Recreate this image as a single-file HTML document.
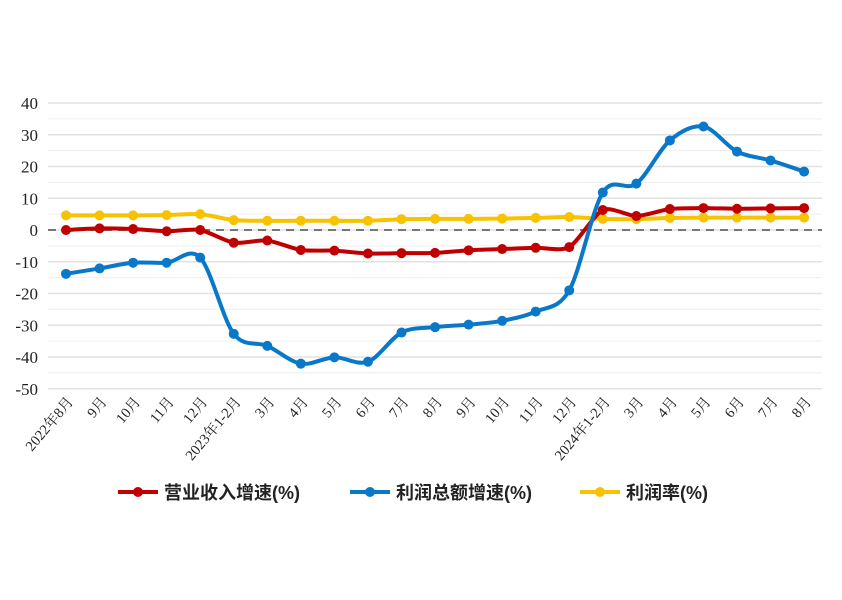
<!DOCTYPE html>
<html><head><meta charset="utf-8"><style>
body{margin:0;background:#fff;}
svg{display:block;font-family:"Liberation Serif","Noto Serif CJK SC",serif;}
</style></head><body>
<svg id="s" width="842" height="600" xmlns="http://www.w3.org/2000/svg"></svg>
<script>
const s=document.getElementById('s');
const Y=v=>230-v*3.175, X=i=>66+i*33.55;
let h='';
for(let v=-50;v<=40;v+=5){const y=Y(v);h+=`<line x1="48" x2="822" y1="${y}" y2="${y}" stroke="${v%10==0?'#e2e2e2':'#efefef'}" stroke-width="${v%10==0?1.6:1}"/>`;}
h+=`<line x1="48" x2="822" y1="230" y2="230" stroke="#777" stroke-width="2" stroke-dasharray="8,6"/>`;
for(let v=-50;v<=40;v+=10){h+=`<text x="38" y="${Y(v)+6}" font-size="17" text-anchor="end" fill="#222">${v}</text>`;}
const labs=['2022年8月','9月','10月','11月','12月','2023年1-2月','3月','4月','5月','6月','7月','8月','9月','10月','11月','12月','2024年1-2月','3月','4月','5月','6月','7月','8月'];
labs.forEach((l,i)=>{const x=X(i)+8,y=402;h+=`<text x="${x}" y="${y}" font-size="14.5" text-anchor="end" transform="rotate(-50 ${x} ${y})" fill="#222">${l}</text>`;});
const red=[0,0.5,0.3,-0.4,0,-4,-3.3,-6.3,-6.5,-7.4,-7.3,-7.2,-6.4,-6,-5.6,-5.4,6.3,4.4,6.6,6.9,6.7,6.8,6.9];
const blue=[-13.8,-12.1,-10.3,-10.3,-8.7,-32.7,-36.5,-42.1,-40.1,-41.5,-32.3,-30.6,-29.8,-28.6,-25.7,-19,11.8,14.6,28.2,32.6,24.7,21.9,18.4];
const yel=[4.6,4.6,4.6,4.7,5.0,3.1,2.9,2.9,2.9,2.9,3.4,3.5,3.5,3.6,3.8,4.1,3.5,3.4,3.8,3.9,3.9,3.9,3.9];
function path(d,t){const p=d.map((v,i)=>[X(i),Y(v)]);let s=`M${p[0][0]},${p[0][1]}`;
for(let i=0;i<p.length-1;i++){const a=p[i-1]||p[i],b=p[i],c=p[i+1],e=p[i+2]||c;
s+=`C${b[0]+(c[0]-a[0])*t},${b[1]+(c[1]-a[1])*t} ${c[0]-(e[0]-b[0])*t},${c[1]-(e[1]-b[1])*t} ${c[0]},${c[1]}`;}return s;}
function ser(d,c,t){h+=`<path d="${path(d,t)}" fill="none" stroke="${c}" stroke-width="4"/>`;d.forEach((v,i)=>h+=`<circle cx="${X(i)}" cy="${Y(v)}" r="5" fill="${c}"/>`);}
ser(yel,'#f7c200',0.12);ser(red,'#c00000',0.12);ser(blue,'#0a78c8',0.16);
const lg=[[118,'#c00000','营业收入增速(%)'],[350,'#0a78c8','利润总额增速(%)'],[580,'#f7c200','利润率(%)']];
lg.forEach(([x,c,t])=>{h+=`<line x1="${x}" x2="${x+40}" y1="492" y2="492" stroke="${c}" stroke-width="4"/><circle cx="${x+20}" cy="492" r="5" fill="${c}"/><text x="${x+46}" y="499" font-size="18" font-weight="bold" fill="#222" font-family="Liberation Sans,Noto Sans CJK SC,sans-serif">${t}</text>`;});
s.innerHTML=h;
</script>
</body></html>
